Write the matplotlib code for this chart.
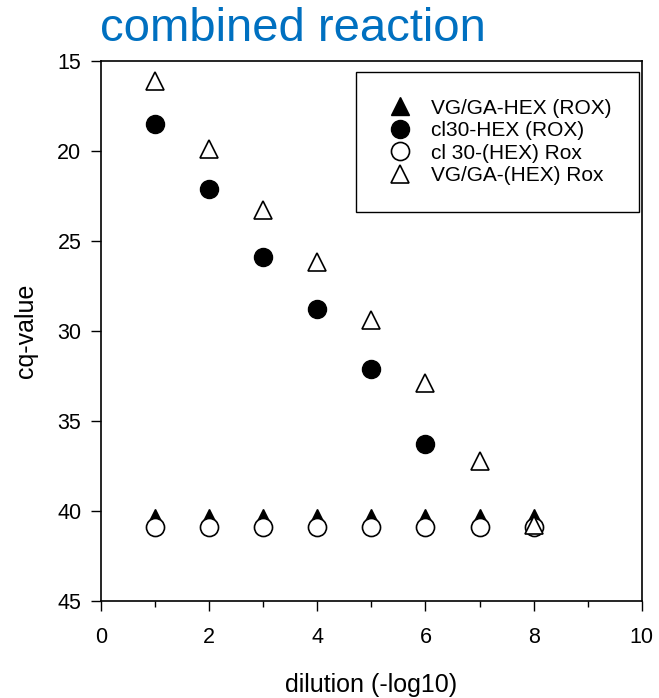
import matplotlib.pyplot as plt
from matplotlib.ticker import MultipleLocator

plt.rcParams["font.family"] = ["Liberation Sans", "DejaVu Sans"]

# dilution steps
dilution = [1, 2, 3, 4, 5, 6, 7, 8]
dilution_cl30 = [1, 2, 3, 4, 5, 6]

# cq values
vg_hex_rox = [40.4, 40.4, 40.4, 40.4, 40.4, 40.4, 40.4, 40.4]
cl30_hex_rox = [18.5, 22.1, 25.9, 28.8, 32.1, 36.3]
cl30_rox = [40.9, 40.9, 40.9, 40.9, 40.9, 40.9, 40.9, 40.9]
vg_rox = [16.1, 19.9, 23.3, 26.2, 29.4, 32.9, 37.2, 40.8]

labels = ["VG/GA-HEX (ROX)", "cl30-HEX (ROX)", "cl 30-(HEX) Rox", "VG/GA-(HEX) Rox"]

fig = plt.figure(figsize=(6.59, 6.98), dpi=100)
ax = fig.add_axes([0.153, 0.139, 0.821, 0.774])

ms = 13
ax.plot(dilution, vg_hex_rox, linestyle="none", marker="^", markersize=ms,
        color="black", label=labels[0], zorder=3)
ax.plot(dilution_cl30, cl30_hex_rox, linestyle="none", marker="o", markersize=ms,
        color="black", label=labels[1], zorder=3)
ax.plot(dilution, cl30_rox, linestyle="none", marker="o", markersize=ms,
        markerfacecolor="white", markeredgecolor="black", markeredgewidth=1.2,
        label=labels[2], zorder=4)
ax.plot(dilution, vg_rox, linestyle="none", marker="^", markersize=ms,
        markerfacecolor="white", markeredgecolor="black", markeredgewidth=1.2,
        label=labels[3], zorder=4)

ax.set_xlim(0, 10)
ax.set_ylim(45, 15)
ax.xaxis.set_major_locator(MultipleLocator(2))
ax.xaxis.set_minor_locator(MultipleLocator(1))
ax.yaxis.set_major_locator(MultipleLocator(5))
ax.tick_params(which="major", direction="out", length=7, width=1, labelsize=15.5)
ax.tick_params(which="minor", direction="out", length=4, width=1)
ax.tick_params(axis="x", pad=12)
ax.tick_params(axis="y", pad=7)

for s in ax.spines.values():
    s.set_linewidth(1.2)

ax.set_xlabel("dilution (-log10)", fontsize=18, labelpad=18)
ax.set_ylabel("cq-value", fontsize=18, labelpad=14)

fig.text(0.152, 0.941, "combined reaction", color="#0070C0", fontsize=34,
         ha="left", va="baseline")

leg = ax.legend(loc="upper right", bbox_to_anchor=(0.9945, 0.98), borderaxespad=0,
                fontsize=15, frameon=True, fancybox=False, edgecolor="black",
                framealpha=1, borderpad=1.3, labelspacing=0.17, handletextpad=0.67,
                handlelength=1.65, markerscale=1.0)
leg.get_frame().set_linewidth(1.0)

fig.savefig("out.png", dpi=100)
